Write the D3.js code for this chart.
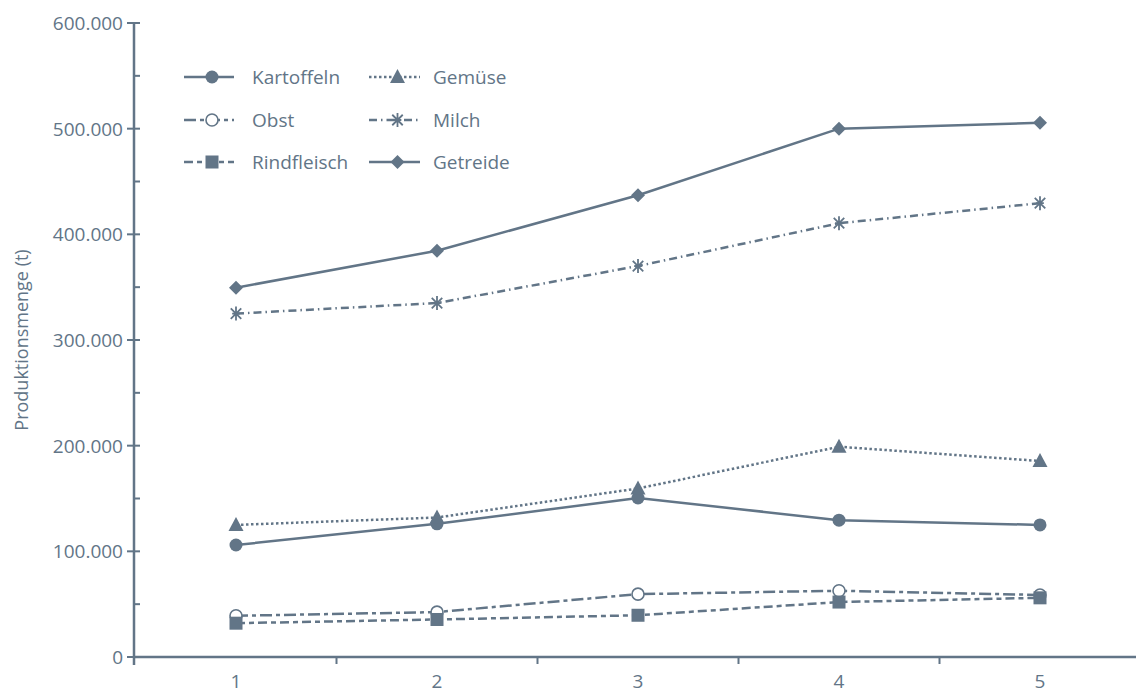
<!DOCTYPE html>
<html>
<head>
<meta charset="utf-8">
<script src="https://cdn.jsdelivr.net/npm/d3@7"></script>
<style>
  html, body { margin: 0; padding: 0; background: #ffffff; }
  svg { display: block; font-family: "Open Sans", "Noto Sans", sans-serif; }
</style>
</head>
<body>
<svg id="chart" width="1136" height="694"></svg>
<script>
// ---- data ----
const categories = ["1", "2", "3", "4", "5"];
const kartoffeln  = [106000, 126000, 150500, 129500, 125000];
const gemuese     = [125000, 132000, 159500, 199000, 185500];
const obst        = [39000, 42500, 59500, 62700, 58700];
const milch       = [325000, 335000, 370000, 410500, 429500];
const rindfleisch = [32000, 35500, 39500, 52000, 56000];
const getreide    = [349500, 384500, 437000, 500000, 505500];
const yMajorTicks = [0, 100000, 200000, 300000, 400000, 500000, 600000];
const yMinorTicks = [50000, 150000, 250000, 350000, 450000, 550000];
const yLabel = "Produktionsmenge (t)";

const color = "#627587";

const series = [
  { name: "Kartoffeln",  values: kartoffeln,  dash: null,          marker: "circle",   col: 0, row: 0 },
  { name: "Gemüse",      values: gemuese,     dash: "2.5,2.5",     marker: "triangle", col: 1, row: 0 },
  { name: "Obst",        values: obst,        dash: "12,4,4,4",    marker: "ocircle",  col: 0, row: 1 },
  { name: "Milch",       values: milch,       dash: "8,4,1.5,4",   marker: "asterisk", col: 1, row: 1 },
  { name: "Rindfleisch", values: rindfleisch, dash: "9,4,5,4",     marker: "square",   col: 0, row: 2 },
  { name: "Getreide",    values: getreide,    dash: null,          marker: "diamond",  col: 1, row: 2 }
];

const svg = d3.select("#chart");
const x = d3.scaleBand().domain(categories).range([135.5, 1140.5]).padding(0);
const y = d3.scaleLinear().domain([0, 600000]).range([657, 23]);
const axisX0 = 134;
const fmt = v => d3.format(",")(v).replace(/,/g, ".");

// ---- axes ----
const axes = svg.append("g").attr("stroke", color).attr("stroke-width", 2.5);
axes.append("line").attr("x1", axisX0).attr("x2", axisX0).attr("y1", y(600000) - 1).attr("y2", 665);
axes.append("line").attr("x1", axisX0 - 1).attr("x2", 1136).attr("y1", y(0)).attr("y2", y(0));

// y major ticks
axes.selectAll(".ymaj").data(yMajorTicks).join("line")
  .attr("x1", axisX0 - 7).attr("x2", axisX0 + 6)
  .attr("y1", d => y(d)).attr("y2", d => y(d)).attr("stroke-width", 2);
axes.selectAll(".ymin").data(yMinorTicks).join("line")
  .attr("x1", axisX0).attr("x2", axisX0 + 6)
  .attr("y1", d => y(d)).attr("y2", d => y(d)).attr("stroke-width", 2);
// x boundary ticks
axes.selectAll(".xt").data(categories.slice(1)).join("line")
  .attr("x1", d => x(d)).attr("x2", d => x(d))
  .attr("y1", y(0)).attr("y2", y(0) + 7).attr("stroke-width", 2);

// y tick labels
svg.append("g").selectAll("text").data(yMajorTicks).join("text")
  .attr("x", axisX0 - 11).attr("y", d => y(d)).attr("dy", "0.36em")
  .attr("text-anchor", "end").attr("fill", color).attr("font-size", 19)
  .text(d => fmt(d));

// x labels
svg.append("g").selectAll("text").data(categories).join("text")
  .attr("x", d => x(d) + x.bandwidth() / 2).attr("y", 688)
  .attr("text-anchor", "middle").attr("fill", color).attr("font-size", 19)
  .text(d => d);

// y axis title
svg.append("text")
  .attr("transform", "translate(28,340) rotate(-90)")
  .attr("text-anchor", "middle").attr("fill", color).attr("font-size", 18)
  .text(yLabel);

// ---- markers ----
function drawMarker(g, type, cx, cy) {
  if (type === "circle") {
    g.append("circle").attr("cx", cx).attr("cy", cy).attr("r", 6.5).attr("fill", color);
  } else if (type === "ocircle") {
    g.append("circle").attr("cx", cx).attr("cy", cy).attr("r", 6).attr("fill", "#fff")
      .attr("stroke", color).attr("stroke-width", 1.6);
  } else if (type === "triangle") {
    g.append("path").attr("d", `M${cx},${cy - 8}L${cx + 7.5},${cy + 6}L${cx - 7.5},${cy + 6}Z`).attr("fill", color);
  } else if (type === "square") {
    g.append("rect").attr("x", cx - 6.5).attr("y", cy - 6.5).attr("width", 13).attr("height", 13).attr("fill", color);
  } else if (type === "diamond") {
    g.append("path").attr("d", `M${cx},${cy - 7}L${cx + 7},${cy}L${cx},${cy + 7}L${cx - 7},${cy}Z`).attr("fill", color);
  } else if (type === "asterisk") {
    const r = 7, a = r * 0.75;
    const p = `M${cx},${cy - r}L${cx},${cy + r}M${cx - a},${cy - a}L${cx + a},${cy + a}M${cx - a},${cy + a}L${cx + a},${cy - a}M${cx - r * 0.55},${cy}L${cx + r * 0.55},${cy}`;
    g.append("path").attr("d", p).attr("stroke", color).attr("stroke-width", 1.8).attr("fill", "none");
  }
}

// ---- lines ----
const line = d3.line()
  .x((d, i) => x(categories[i]) + x.bandwidth() / 2)
  .y(d => y(d));

const plot = svg.append("g");
series.forEach(s => {
  plot.append("path").datum(s.values)
    .attr("d", line).attr("fill", "none").attr("stroke", color)
    .attr("stroke-width", 2.5)
    .attr("stroke-dasharray", s.dash);
});
series.forEach(s => {
  const g = plot.append("g");
  s.values.forEach((v, i) => drawMarker(g, s.marker, x(categories[i]) + x.bandwidth() / 2, y(v)));
});

// ---- legend ----
const legCols = [{ x1: 184, x2: 234, tx: 252 }, { x1: 369, x2: 420, tx: 433 }];
const legRows = [77, 120, 162];
const leg = svg.append("g");
series.forEach(s => {
  const c = legCols[s.col], ry = legRows[s.row];
  leg.append("line").attr("x1", c.x1).attr("x2", c.x2).attr("y1", ry).attr("y2", ry)
    .attr("stroke", color).attr("stroke-width", 2.5).attr("stroke-dasharray", s.dash);
  drawMarker(leg, s.marker, (c.x1 + c.x2) / 2 + 3, ry);
  leg.append("text").attr("x", c.tx).attr("y", ry).attr("dy", "0.36em")
    .attr("fill", color).attr("font-size", 19).text(s.name);
});
</script>
</body>
</html>
